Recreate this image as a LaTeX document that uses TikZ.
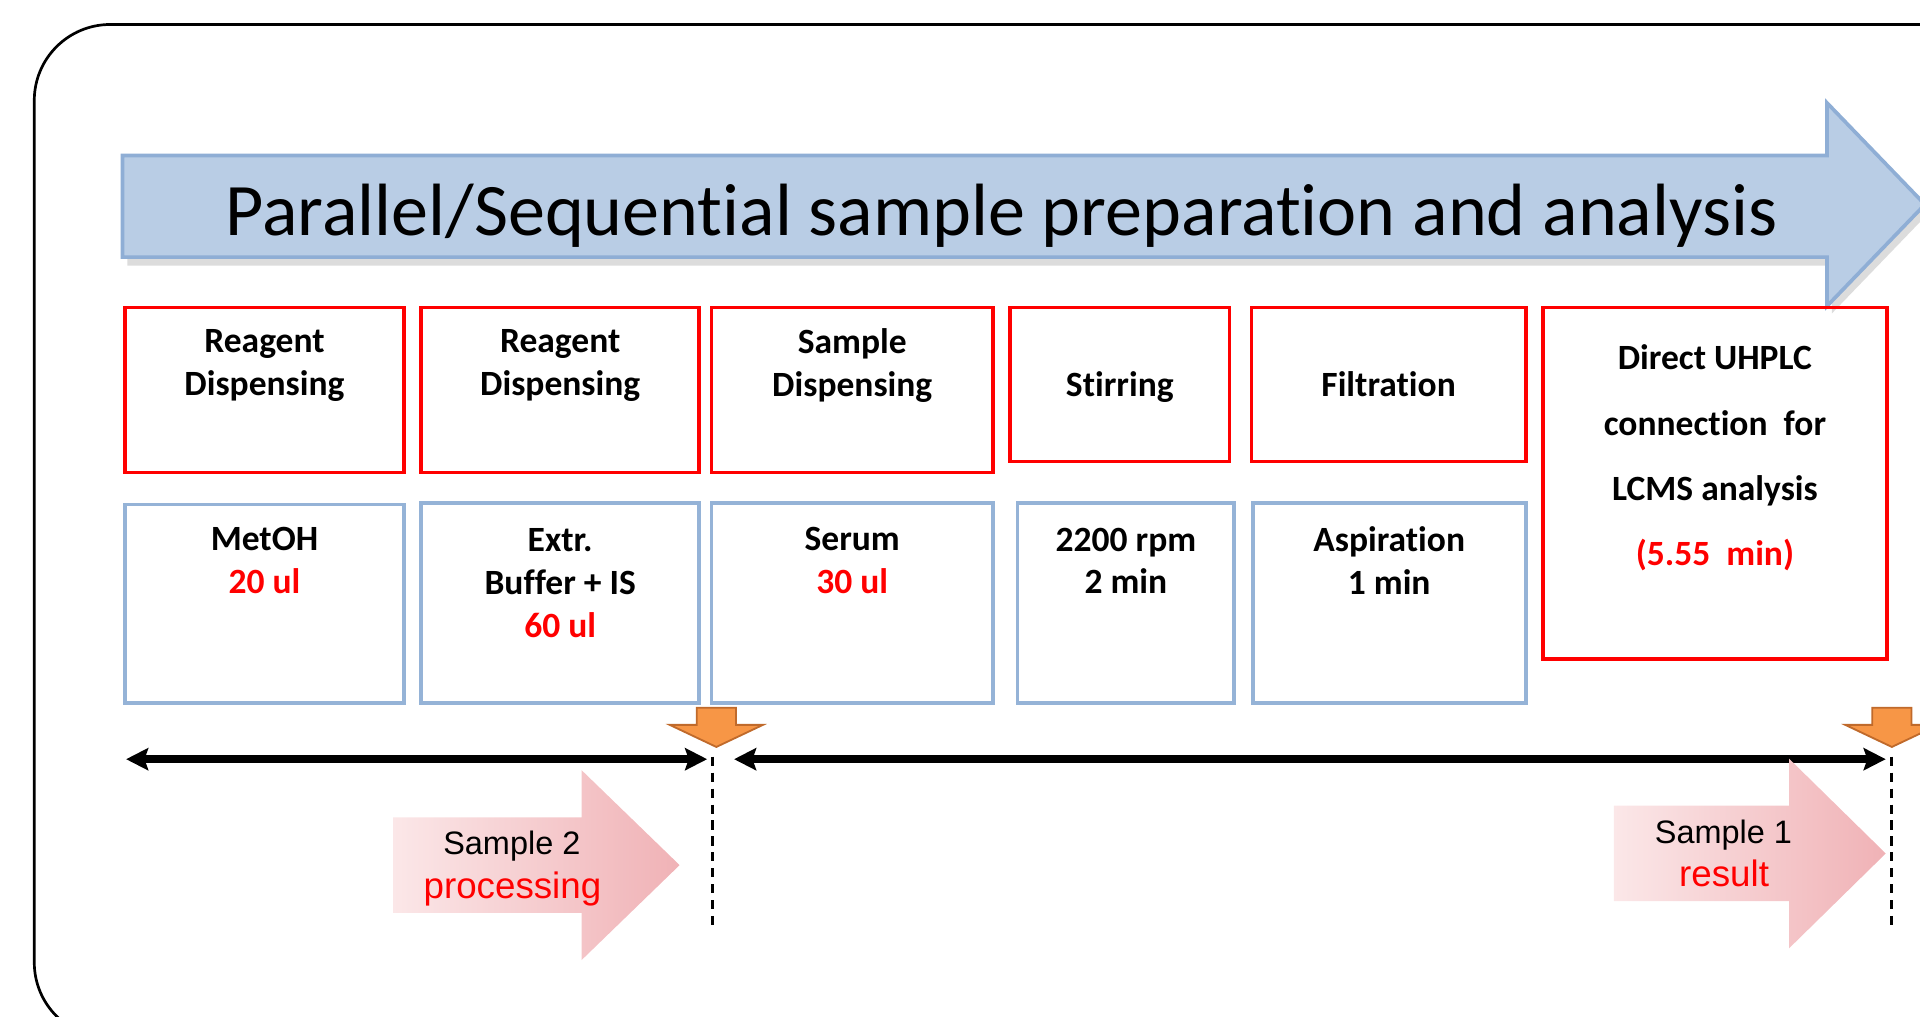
\documentclass[tikz,border=0pt]{standalone}
\usepackage{fontspec}
\setmainfont[RawFeature={-liga}]{Carlito}
\newfontfamily\arialf{Liberation Sans}
\usetikzlibrary{arrows.meta}
\definecolor{boxred}{HTML}{FF0000}
\definecolor{boxblue}{HTML}{95B3D7}
\definecolor{arrfill}{HTML}{B9CDE5}
\definecolor{arrline}{HTML}{8FAED5}
\definecolor{orfill}{HTML}{F79646}
\definecolor{orline}{HTML}{C06A2B}
\definecolor{pinkL}{RGB}{251,231,232}
\definecolor{pinkR}{RGB}{240,178,182}
\begin{document}
\begin{tikzpicture}[x=1pt,y=-1pt,
  redbox/.style={draw=boxred, line width=3pt, inner sep=0pt, outer sep=0pt},
  bluebox/.style={draw=boxblue, line width=3pt, inner sep=0pt, outer sep=0pt},
  boxtxt/.style={font=\bfseries\fontsize{29}{35}\selectfont, align=center, inner sep=0pt},
  bigtxt/.style={font=\bfseries\fontsize{29}{53.3}\selectfont, align=center, inner sep=0pt},
  dbl/.style={line width=6.5pt, {Stealth[length=18pt,width=18pt,inset=3pt]}-{Stealth[length=18pt,width=18pt,inset=3pt]}},
  dsh/.style={line width=2.4pt, dash pattern=on 7.5pt off 5.5pt},
  orarrow/.style={fill=orfill, draw=orline, line width=1.5pt, line join=miter},
  pinkarrow/.style={left color=pinkL, right color=pinkR, draw=none},
  smalltxt/.style={font=\arialf\fontsize{26.5}{30}\selectfont, inner sep=0pt, anchor=base},
  redtxt/.style={font=\arialf\fontsize{30}{34}\selectfont, text=boxred, inner sep=0pt, anchor=base}
]
\useasboundingbox (0,0) rectangle (1568,830);
\clip (0,0) rectangle (1568,830);

% frame
\draw[line width=2.2pt, rounded corners=62pt] (28,20) rectangle (1700,848);

% big blue arrow with shadow
\fill[black!30, opacity=0.45] (104,134) -- (1496,134) -- (1496,90) -- (1576,173) -- (1496,256) -- (1496,217) -- (104,217) -- cycle;
\draw[fill=arrfill, draw=arrline, line width=3pt, line join=miter] (100,127) -- (1492,127) -- (1492,84) -- (1572,167) -- (1492,250) -- (1492,210) -- (100,210) -- cycle;
\node[font=\fontsize{60.5}{70}\selectfont, inner sep=0pt] (title) at (818,176) {Parallel/Sequential sample preparation and analysis};

% red boxes
\node[redbox, minimum width=228pt, minimum height=135pt] (r1) at (216,318.5) {};
\node[redbox, minimum width=227pt, minimum height=135pt] (r2) at (457.5,318.5) {};
\node[redbox, minimum width=230pt, minimum height=135pt] (r3) at (696,318.5) {};
\node[redbox, minimum width=179pt, minimum height=126pt] (r4) at (914.5,314) {};
\node[redbox, minimum width=224pt, minimum height=126pt] (r5) at (1134,314) {};
\node[redbox, minimum width=281pt, minimum height=287pt] (r6) at (1400.5,394.5) {};

\node[boxtxt] (r1t) at (216,298.5) {Reagent\\Dispensing};
\node[boxtxt] (r2t) at (457.5,298.5) {Reagent\\Dispensing};
\node[boxtxt] (r3t) at (696,298.5) {Sample\\Dispensing};
\node[boxtxt] (r4t) at (914.5,316) {Stirring};
\node[boxtxt] (r5t) at (1134,314) {Filtration};
\node[bigtxt] (r6t) at (1400.5,374) {Direct UHPLC\\connection\ \ for\\LCMS analysis\\{\color{boxred}(5.55\ \ min)}};

% blue boxes
\node[bluebox, minimum width=228pt, minimum height=162pt] (b1) at (216,493) {};
\node[bluebox, minimum width=227pt, minimum height=163pt] (b2) at (457.5,492.5) {};
\node[bluebox, minimum width=230pt, minimum height=163pt] (b3) at (696,492.5) {};
\node[bluebox, minimum width=177pt, minimum height=163pt] (b4) at (919.5,492.5) {};
\node[bluebox, minimum width=223pt, minimum height=163pt] (b5) at (1134.5,492.5) {};

\node[boxtxt] (b1t) at (216,458) {MetOH\\{\color{boxred}20 ul}};
\node[boxtxt] (b2t) at (457.5,476) {Extr.\\Buffer + IS\\{\color{boxred}60 ul}};
\node[boxtxt] (b3t) at (696,458) {Serum\\{\color{boxred}30 ul}};
\node[boxtxt] (b4t) at (919.5,458) {2200 rpm\\2 min};
\node[boxtxt] (b5t) at (1134.5,458) {Aspiration\\1 min};

% orange markers
\draw[orarrow] (569,578) -- (601,578) -- (601,592) -- (623,592) -- (585,610) -- (547,592) -- (569,592) -- cycle;
\draw[orarrow] (1529,578) -- (1561,578) -- (1561,592) -- (1583,592) -- (1545,610) -- (1507,592) -- (1529,592) -- cycle;

% timeline arrows
\coordinate (l1) at (103,620);
\coordinate (l2) at (577.5,620);
\coordinate (l3) at (599.5,620);
\coordinate (l4) at (1540,620);
\draw[dbl] (l1) -- (l2);
\draw[dbl] (l3) -- (l4);

% dashed markers
\coordinate (d1a) at (581.5,618);
\coordinate (d1b) at (581.5,760);
\coordinate (d2a) at (1545,618);
\coordinate (d2b) at (1545,760);
\draw[dsh] (d1a) -- (d1b);
\draw[dsh] (d2a) -- (d2b);

% pink arrows
\shade[pinkarrow] (321,667.5) -- (475,667.5) -- (475,629) -- (555,706.5) -- (475,784) -- (475,745.5) -- (321,745.5) -- cycle;
\shade[pinkarrow] (1318,658) -- (1461,658) -- (1461,619.5) -- (1540,697) -- (1461,774.5) -- (1461,736) -- (1318,736) -- cycle;

\node[smalltxt] (s2a) at (418,697.6) {Sample 2};
\node[redtxt] (s2b) at (418.5,733.5) {processing};
\node[smalltxt] (s1a) at (1407.5,688.5) {Sample 1};
\node[redtxt] (s1b) at (1408,724) {result};
\end{tikzpicture}
\end{document}
